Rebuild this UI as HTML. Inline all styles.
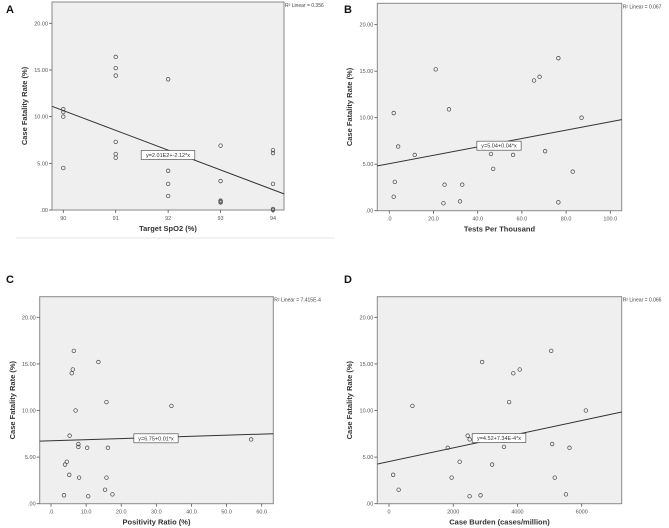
<!DOCTYPE html>
<html><head><meta charset="utf-8"><style>
html,body{margin:0;padding:0;background:#fff;width:669px;height:528px;overflow:hidden}
svg{display:block;font-family:"Liberation Sans",Arial,sans-serif}
</style></head><body>
<svg id="fig" width="669" height="528" xmlns="http://www.w3.org/2000/svg">
<line x1="16" y1="238" x2="335" y2="238" stroke="#e4e4e4" stroke-width="1"/>
</svg>
<script>
// Panel A data
const aX = [90,90,90,90,91,91,91,91,91,91,92,92,92,92,93,93,93,93,93,94,94,94,94,94];
const aY = [10.8,10.5,10.0,4.5,16.4,15.2,14.4,7.3,6.0,5.6,14.0,4.2,2.8,1.5,6.9,3.1,1.0,0.9,0.8,6.4,6.1,2.8,0.1,0.0];
const aTicks = [90,91,92,93,94];
const aTickLabels = ["90","91","92","93","94"];
const aFit = [201.45,-2.12];
// Panel B
const bX = [2,4,2.5,2,11.5,21,27,25,24.5,32,33,46,47,56,65.5,68,70.5,76.5,76.5,83,87];
const bY = [10.5,6.9,3.1,1.5,6,15.2,10.9,2.8,0.8,1.0,2.8,6.1,4.5,6,14,14.4,6.4,16.4,0.9,4.2,10];
const bTicks = [0,20,40,60,80,100];
const bTickLabels = [".0","20.0","40.0","60.0","80.0","100.0"];
const bFit = [5.06,0.045];
// Panel C
const cX = [6.5,13.5,6.2,5.9,15.8,34.3,7,5.3,57,7.8,7.8,10.3,16.2,4.5,4,5.2,8,15.8,15.4,17.5,3.7,10.6];
const cY = [16.4,15.2,14.4,14,10.9,10.5,10,7.3,6.9,6.4,6.1,6,6,4.5,4.2,3.1,2.8,2.8,1.5,1,0.9,0.8];
const cTicks = [0,10,20,30,40,50,60];
const cTickLabels = [".0","10.0","20.0","30.0","40.0","50.0","60.0"];
const cFit = [6.75,0.012];
// Panel D
const dX = [5050,2900,4070,3870,3740,730,6130,2450,2510,1830,3580,5080,5620,2200,3210,130,1950,5160,300,2850,2510,5510];
const dY = [16.4,15.2,14.4,14,10.9,10.5,10,7.3,6.9,6,6.1,6.4,6,4.5,4.2,3.1,2.8,2.8,1.5,0.9,0.8,1.0];
const dTicks = [0,2000,4000,6000];
const dTickLabels = ["0","2000","4000","6000"];
const dFit = [4.52,0.000734];
const yTicks = [0,5,10,15,20];
const yTickLabels = [".00","5.00","10.00","15.00","20.00"];

const NS="http://www.w3.org/2000/svg";
const svg=document.getElementById('fig');
function mk(tag,attrs,parent,text){
  const e=document.createElementNS(NS,tag);
  for(const k in attrs) e.setAttribute(k,attrs[k]);
  if(text!==undefined) e.textContent=text;
  (parent||svg).appendChild(e);
  return e;
}
function panel(cfg){
  const g=mk('g',{});
  
  
  const {L,R,T,B,x0px,x0v,x1px,x1v,y20}=cfg;
  const sx=v=>x0px+(v-x0v)*(x1px-x0px)/(x1v-x0v);
  const sy=v=>B-v*(B-y20)/20;
  const inv=px=>x0v+(px-x0px)*(x1v-x0v)/(x1px-x0px);
  const bg=mk('rect',{x:L,y:T,width:R-L,height:B-T,fill:'#efefef',stroke:'#8a8a8a','stroke-width':1},g);
  
  
  yTicks.forEach((t,i)=>{
    const y=sy(t);
    mk('line',{x1:L-3,x2:L,y1:y,y2:y,stroke:'#555','stroke-width':0.8},g);
    const tl=mk('text',{x:L-4,y:y+2,'font-size':5.5,fill:'#555','text-anchor':'end'},g,yTickLabels[i]);
    
    
  });
  cfg.ticks.forEach((t,i)=>{
    const x=sx(t);
    mk('line',{x1:x,x2:x,y1:B,y2:B+3,stroke:'#555','stroke-width':0.8},g);
    const tl=mk('text',{x:x,y:B+10,'font-size':5.5,fill:'#555','text-anchor':'middle'},g,cfg.tickLabels[i]);
    
    
  });
  // fit line
  const a=cfg.fit[0],b=cfg.fit[1];
  const vl=inv(L),vr=inv(R);
  let yl=a+b*vl,yr=a+b*vr;
  const fl=mk('line',{x1:L,y1:sy(yl),x2:R,y2:sy(yr),stroke:'#333','stroke-width':1},g);
  
  
  cfg.xs.forEach((xv,i)=>{
    const c=mk('circle',{cx:sx(xv),cy:sy(cfg.ys[i]),r:1.8,fill:'none',stroke:'#444','stroke-width':0.7},g);
    
    
  });
  // equation label
  const w=cfg.eq.length*3.1+4;
  const eb=mk('rect',{x:cfg.eqx-w/2,y:cfg.eqy-4.5,width:w,height:9,fill:'#fff',stroke:'#555','stroke-width':0.7},g);
  
  
  const et=mk('text',{x:cfg.eqx,y:cfg.eqy+2,'font-size':5.5,fill:'#333','text-anchor':'middle'},g,cfg.eq);
  
  
  const r2=mk('text',{x:R+1,y:T+5,'font-size':5,fill:'#444'},g,'R² Linear = '+cfg.r2);
  
  
  const xt=mk('text',{x:(L+R)/2,y:B+21,'font-size':7.5,'font-weight':'bold',fill:'#333','text-anchor':'middle'},g,cfg.xtitle);
  
  
  const yt=mk('text',{x:0,y:0,'font-size':7.5,'font-weight':'bold',fill:'#333','text-anchor':'middle',transform:`translate(${cfg.ytx},${(T+B)/2}) rotate(-90)`},g,'Case Fatality Rate (%)');
  
  
  const lt=mk('text',{x:cfg.lx,y:cfg.ly,'font-size':11,'font-weight':'bold',fill:'#111'},g,cfg.id);
  
  
}
panel({id:'A',L:52,R:284,T:2,B:210,x0px:63.3,x0v:90,x1px:273,x1v:94,y20:23.3,xs:aX,ys:aY,ticks:aTicks,tickLabels:aTickLabels,fit:aFit,eq:'y=2.01E2+-2.12*x',eqx:168,eqy:155,r2:'0.356',xtitle:'Target SpO2 (%)',ytx:27,lx:6,ly:13});
panel({id:'B',L:377.3,R:621.7,T:3.3,B:210.7,x0px:389.3,x0v:0,x1px:610.3,x1v:100,y20:24.7,xs:bX,ys:bY,ticks:bTicks,tickLabels:bTickLabels,fit:bFit,eq:'y=5.04+0.04*x',eqx:499,eqy:145.7,r2:'0.067',xtitle:'Tests Per Thousand',ytx:352,lx:344,ly:13});
panel({id:'C',L:39.7,R:273.3,T:296.7,B:503.7,x0px:51,x0v:0,x1px:261.7,x1v:60,y20:317.3,xs:cX,ys:cY,ticks:cTicks,tickLabels:cTickLabels,fit:cFit,eq:'y=6.75+0.01*x',eqx:156,eqy:438.3,r2:'7.415E-4',xtitle:'Positivity Ratio (%)',ytx:15,lx:6,ly:283});
panel({id:'D',L:377.3,R:621.7,T:296.7,B:503.7,x0px:389,x0v:0,x1px:581.7,x1v:6000,y20:317.3,xs:dX,ys:dY,ticks:dTicks,tickLabels:dTickLabels,fit:dFit,eq:'y=4.52+7.34E-4*x',eqx:499,eqy:438,r2:'0.066',xtitle:'Case Burden (cases/million)',ytx:352,lx:344,ly:283});
</script>
</body></html>
